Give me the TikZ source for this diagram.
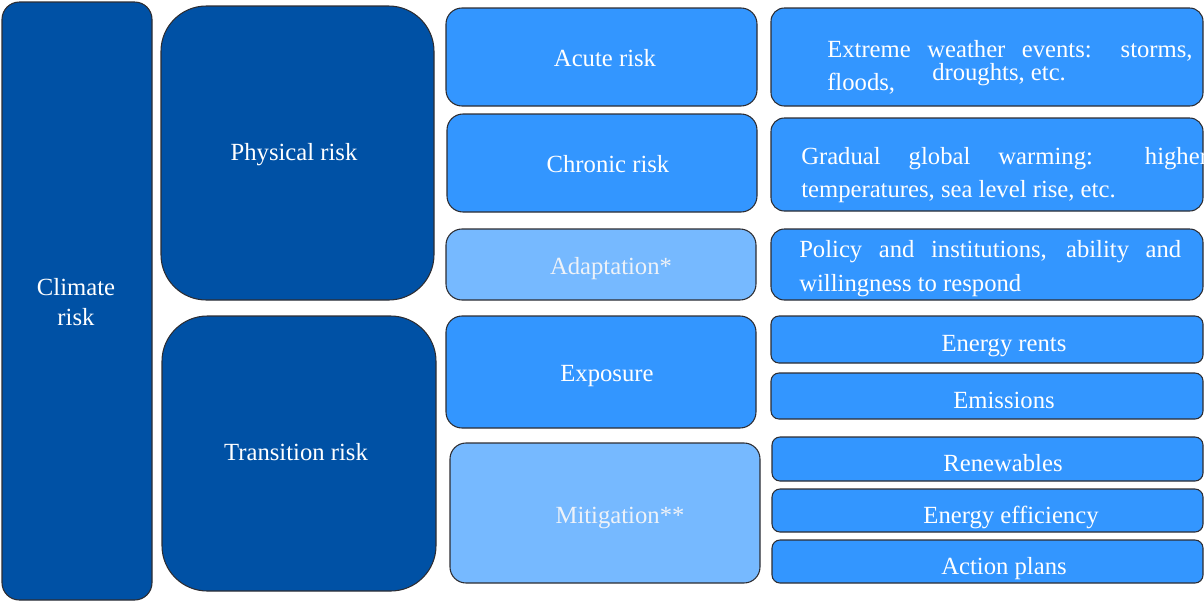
\documentclass[tikz,border=0pt]{standalone}
\usepackage{fontspec}
\setmainfont{Liberation Serif}
\definecolor{darkb}{RGB}{0,81,165}
\definecolor{midb}{RGB}{51,150,255}
\definecolor{lightb}{RGB}{118,185,255}
\definecolor{edge}{RGB}{45,45,50}
\definecolor{paletxt}{RGB}{238,242,248}
\tikzset{
  base/.style={draw=edge, line width=0.8pt, inner sep=0pt, outer sep=0pt},
  darkbox/.style={base, fill=darkb, rounded corners=34pt},
  climbox/.style={base, fill=darkb, rounded corners=13pt},
  midbox/.style={base, fill=midb, rounded corners=12pt},
  lightbox/.style={base, fill=lightb, rounded corners=12pt},
  descbox/.style={base, fill=midb, rounded corners=10pt},
  smallbox/.style={base, fill=midb, rounded corners=6pt},
  lbl/.style={text=white, font=\fontsize{18.5}{23}\selectfont, inner sep=0pt, align=center},
  dlbl/.style={lbl, yshift=-2.25pt},
  palelbl/.style={dlbl, text=paletxt},
  txt/.style={text=white, font=\fontsize{18.5}{23}\selectfont, inner sep=0pt, anchor=base west}
}
\newcommand\bx[7]{\node[#6, minimum width={(#4-#2)*0.75pt}, minimum height={(#5-#3)*0.75pt}] (#1) at ({(#2+#4)/2},{(#3+#5)/2}) {#7};}
\begin{document}
\begin{tikzpicture}[x=0.75pt,y=-0.75pt]
\useasboundingbox (0,0) rectangle (1204,601);
\clip (0,0) rectangle (1204,601);
% left column
\bx{climate}{2}{2}{152}{600}{climbox}{}
\node[dlbl] (climate-t) at (76,299) {Climate\\[0pt]risk};
\bx{phys}{161}{6}{434}{300}{darkbox}{}
\node[dlbl] (phys-t) at (294,152) {Physical risk};
\bx{trans}{162}{316}{436}{591}{darkbox}{}
\node[lbl] (trans-t) at (296,452) {Transition risk};
% middle column
\bx{acute}{446}{8}{757}{106}{midbox}{}
\node[lbl] (acute-t) at (605,58) {Acute risk};
\bx{chronic}{447}{114}{757}{212}{midbox}{}
\node[lbl] (chronic-t) at (608,164) {Chronic risk};
\bx{adapt}{446}{229}{756}{300}{lightbox}{}
\node[palelbl] (adapt-t) at (611,266) {Adaptation*};
\bx{expo}{446}{316}{756}{428}{midbox}{}
\node[dlbl] (expo-t) at (607,373) {Exposure};
\bx{miti}{450}{443}{760}{583}{lightbox}{}
\node[palelbl] (miti-t) at (620,515) {Mitigation**};
% right column
\bx{extreme}{771}{8}{1203}{106}{descbox}{}
\node[txt] (ext1) at (827,57) {\makebox[274pt][s]{Extreme weather events: storms,}};
\node[txt] (ext2) at (827,90) {floods,};
\node[txt] (ext3) at (932,80) {droughts, etc.};
\bx{gradual}{771}{118}{1203}{211}{descbox}{}
\node[txt] (grad1) at (801,164) {\makebox[305pt][s]{Gradual global warming: higher}};
\node[txt] (grad2) at (801,197) {temperatures, sea level rise, etc.};
\bx{policy}{771}{229}{1203}{300}{descbox}{}
\node[txt] (pol1) at (799,257) {\makebox[286.5pt][s]{Policy and institutions, ability and}};
\node[txt] (pol2) at (799,291) {willingness to respond};
\bx{rents}{771}{316}{1203}{363}{smallbox}{}
\node[dlbl] (rents-t) at (1004,343) {Energy rents};
\bx{emis}{771}{373}{1203}{419}{smallbox}{}
\node[lbl] (emis-t) at (1004,400) {Emissions};
\bx{renew}{772}{437}{1203}{481}{smallbox}{}
\node[lbl] (renew-t) at (1003,463) {Renewables};
\bx{effic}{772}{489}{1203}{532}{smallbox}{}
\node[lbl, yshift=-1.5pt] (effic-t) at (1011,515) {Energy efficiency};
\bx{action}{772}{540}{1203}{583}{smallbox}{}
\node[dlbl] (action-t) at (1004,566) {Action plans};
\end{tikzpicture}
\end{document}
